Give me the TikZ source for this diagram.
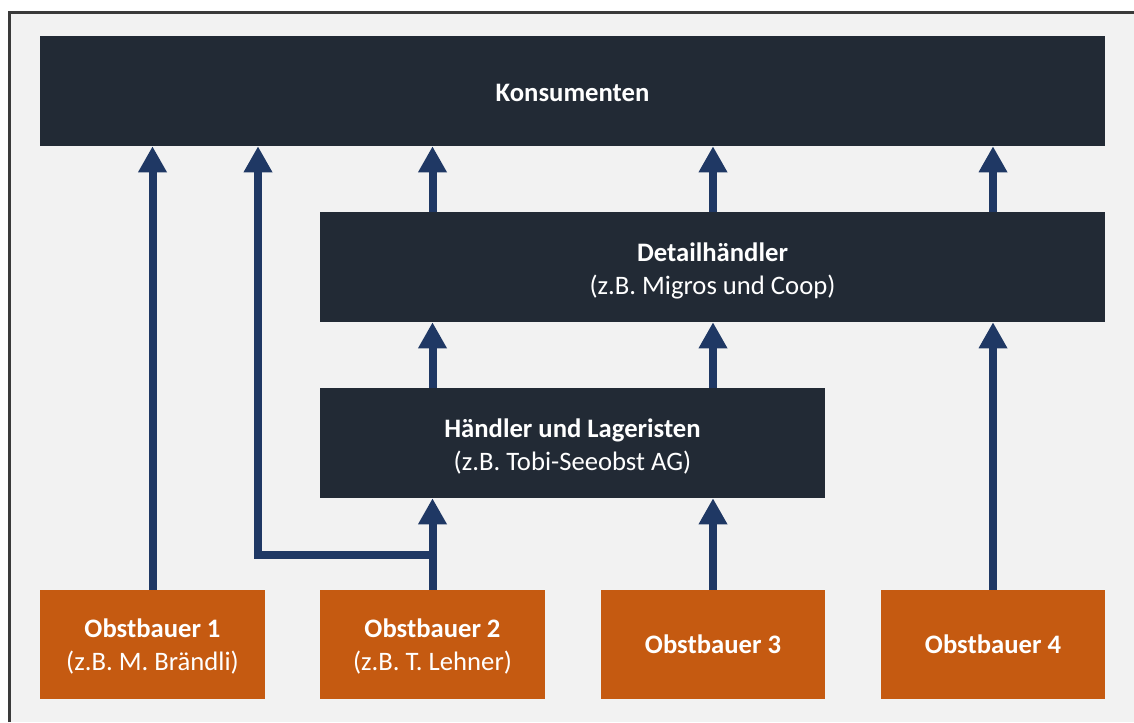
\documentclass[tikz,border=0pt]{standalone}
\usepackage{fontspec}
\setmainfont{Carlito}
\usetikzlibrary{arrows.meta}

\definecolor{boxdark}{HTML}{222A35}
\definecolor{farmer}{HTML}{C55A11}
\definecolor{flowblue}{HTML}{1F3864}
\definecolor{panel}{HTML}{F2F2F2}
\definecolor{framegray}{HTML}{3A3A3A}

\tikzset{
  block/.style={rectangle, inner sep=0pt},
  darkbox/.style={block, fill=boxdark},
  farmbox/.style={block, fill=farmer, minimum width=168.4pt, minimum height=81.75pt},
  caption/.style={inner sep=0pt, text=white, align=center,
    font=\fontsize{20}{24.75}\selectfont},
  flow/.style={draw=flowblue, line width=6pt,
    -{Triangle[width=20.25pt,length=19.5pt]}},
}

\begin{document}
\begin{tikzpicture}[x=0.75pt,y=-0.75pt]
  \useasboundingbox (0,0) rectangle (1134,722);
  % panel and its frame
  \fill[white] (0,0) rectangle (1134,722);
  \fill[panel] (9.5,12.5) rectangle (1134,722);
  \draw[framegray, line width=2.25pt] (9.5,722) -- (9.5,12.5) -- (1134,12.5);

  % chain levels
  \node[darkbox, minimum width=798.75pt, minimum height=82.5pt] (kons) at (572.5,91) {};
  \node[darkbox, minimum width=588.75pt, minimum height=82.5pt] (detail) at (712.5,267) {};
  \node[darkbox, minimum width=378.75pt, minimum height=82.5pt] (lager) at (572.5,443) {};

  % growers
  \node[farmbox] (ob1) at (152.5,644.5) {};
  \node[farmbox] (ob2) at (432.5,644.5) {};
  \node[farmbox] (ob3) at (713,644.5) {};
  \node[farmbox] (ob4) at (993,644.5) {};

  % captions
  \node[caption] (konsT) at ([yshift=-1.5pt]kons.center) {\textbf{Konsumenten}};
  \node[caption] (detailT) at ([yshift=-2.6pt]detail.center)
    {\textbf{Detailhändler}\\(z.B. Migros und Coop)};
  \node[caption] (lagerT) at ([yshift=-2.6pt]lager.center)
    {\textbf{Händler und Lageristen}\\(z.B. Tobi-Seeobst AG)};
  \node[caption] (ob1T) at ([yshift=-1.8pt]ob1.center) {\textbf{Obstbauer 1}\\(z.B. M. Brändli)};
  \node[caption] (ob2T) at ([yshift=-1.8pt]ob2.center) {\textbf{Obstbauer 2}\\(z.B. T. Lehner)};
  \node[caption] (ob3T) at (ob3.center) {\textbf{Obstbauer 3}};
  \node[caption] (ob4T) at (ob4.center) {\textbf{Obstbauer 4}};

  % flows of goods
  \coordinate (bend) at (258,555);
  \draw[flow] (ob1.north) -- (ob1.north |- kons.south);
  \draw[flow] (ob2.north) -- (ob2.north |- lager.south);
  \draw[flow] (ob2.north |- bend) -- (bend) -- (bend |- kons.south);
  \draw[flow] (ob3.north) -- (ob3.north |- lager.south);
  \draw[flow] (ob4.north) -- (ob4.north |- detail.south);
  \draw[flow] (ob2.north |- lager.north) -- (ob2.north |- detail.south);
  \draw[flow] (ob3.north |- lager.north) -- (ob3.north |- detail.south);
  \draw[flow] (ob2.north |- detail.north) -- (ob2.north |- kons.south);
  \draw[flow] (ob3.north |- detail.north) -- (ob3.north |- kons.south);
  \draw[flow] (ob4.north |- detail.north) -- (ob4.north |- kons.south);
\end{tikzpicture}
\end{document}
